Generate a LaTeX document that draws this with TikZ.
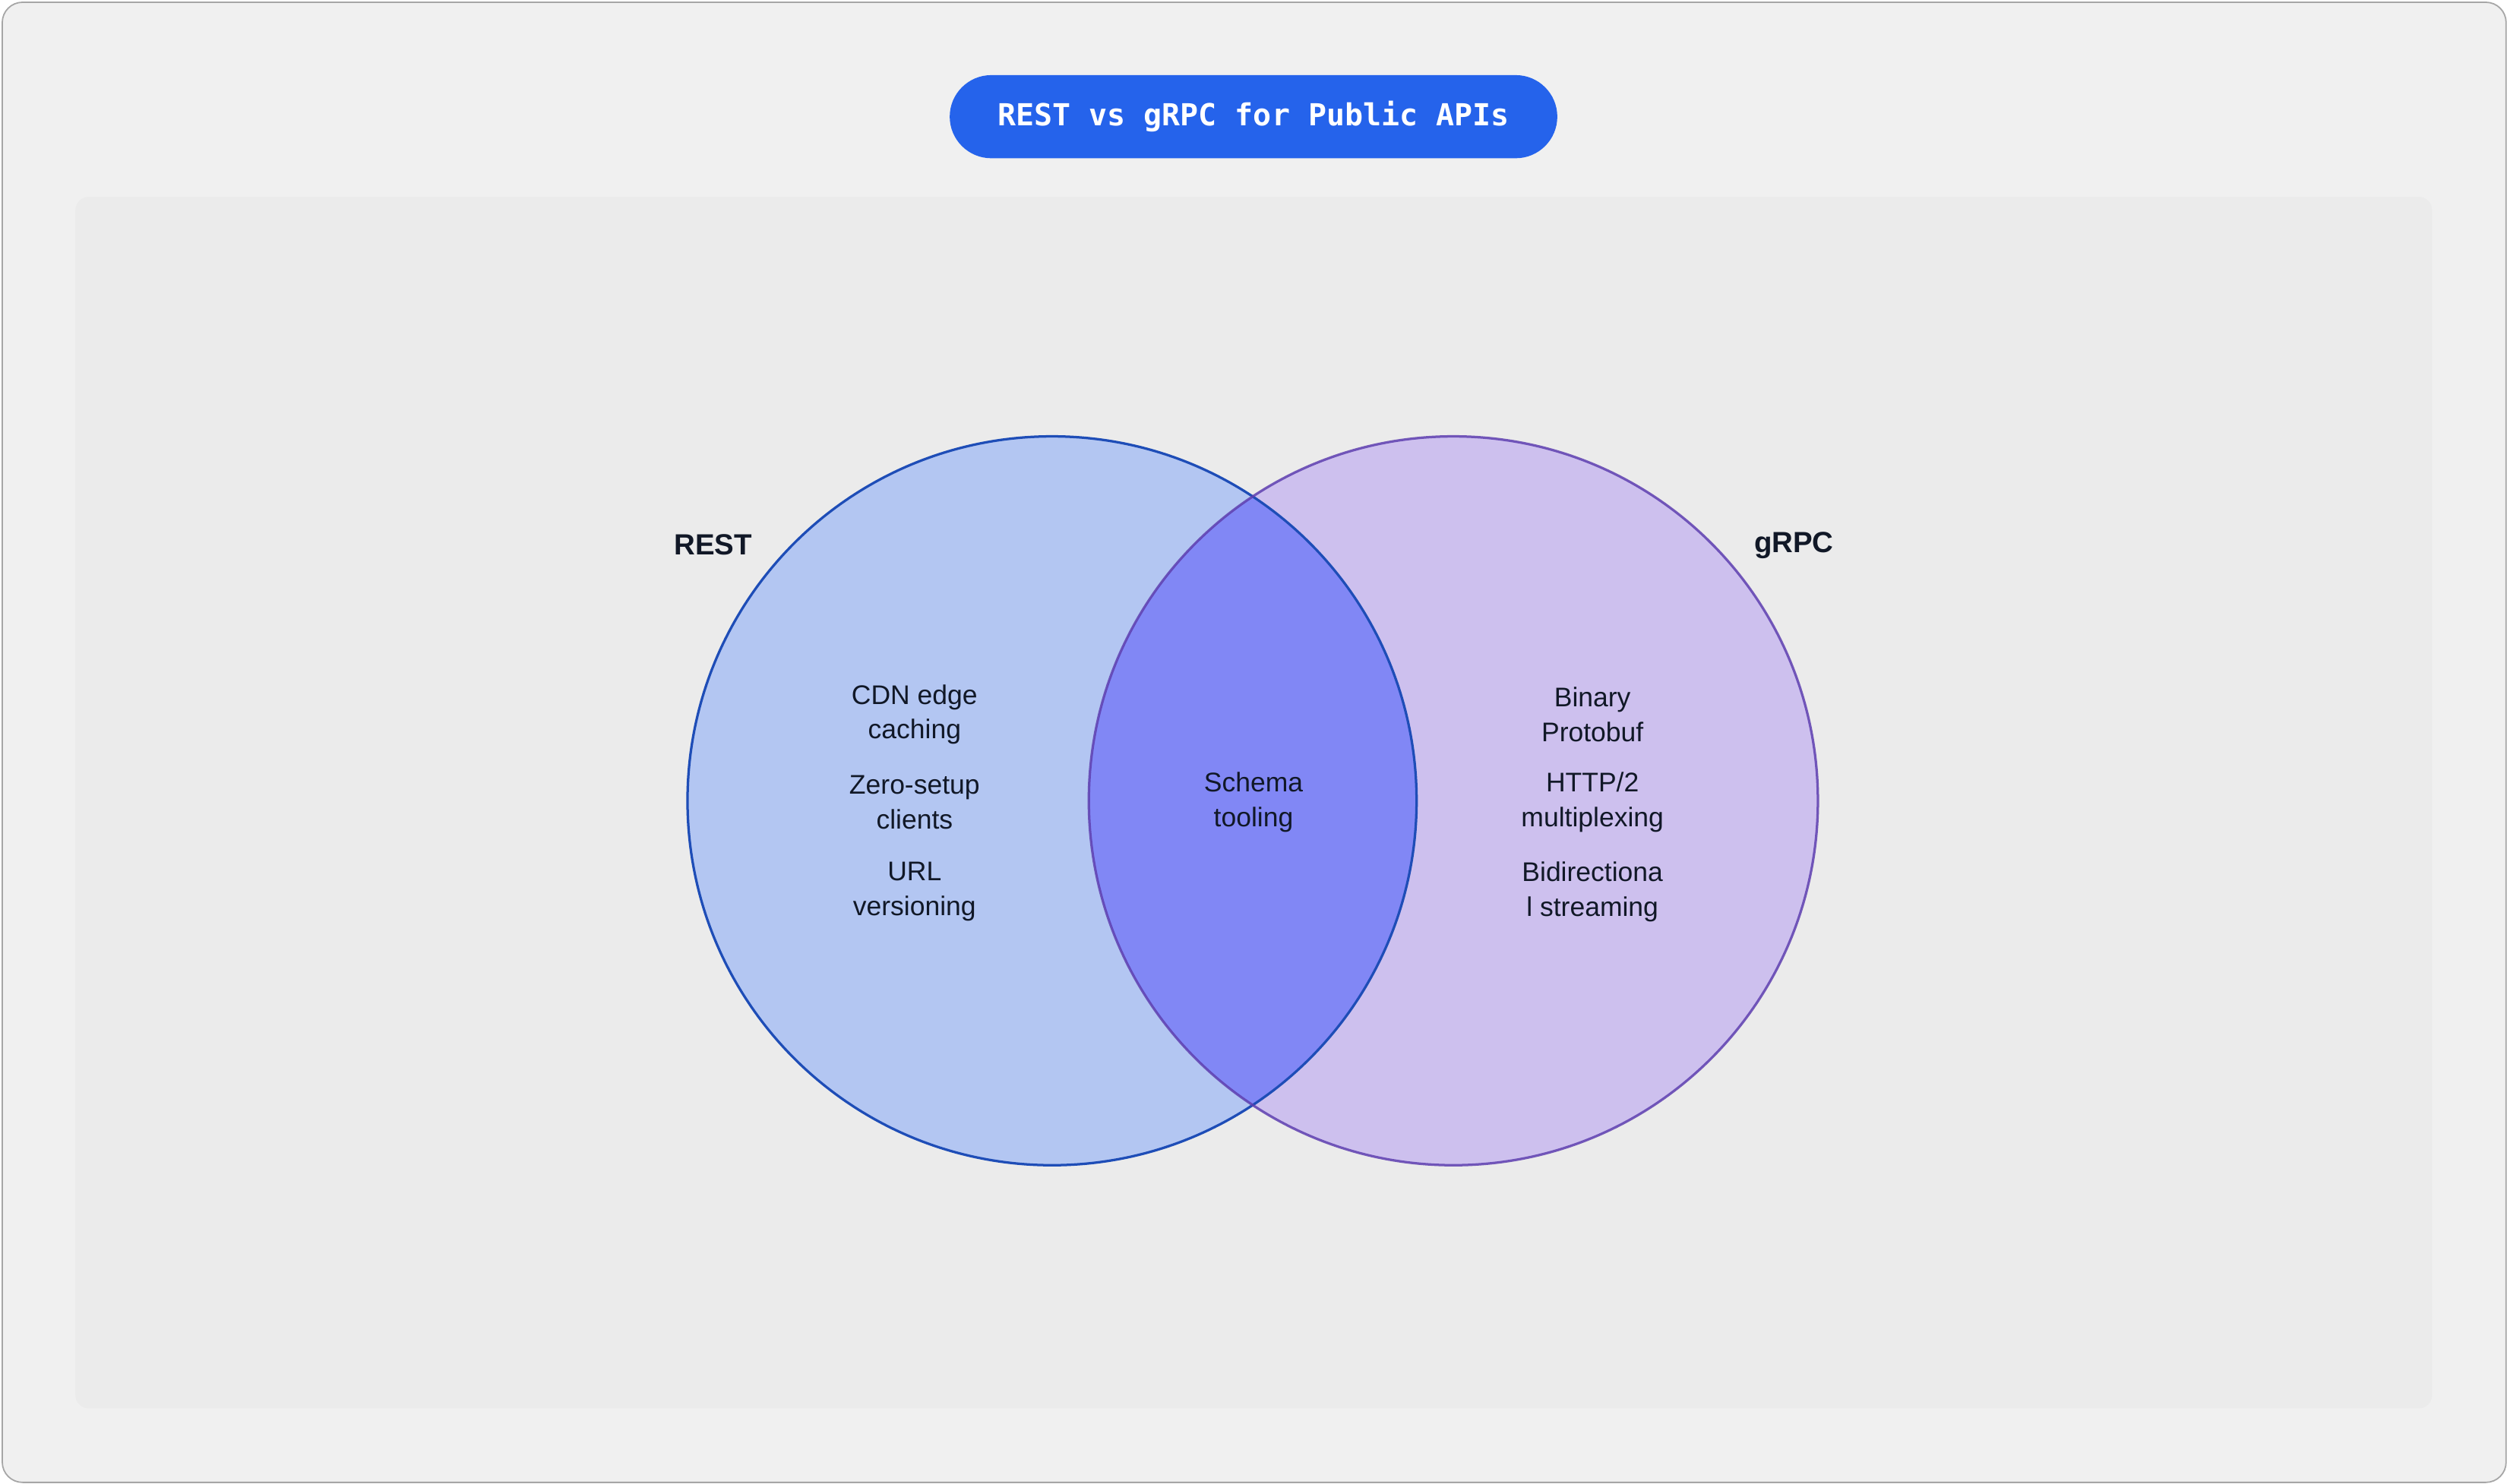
\documentclass[tikz,border=0pt]{standalone}
\usepackage{fontspec}
\setmainfont{Liberation Sans}
\newfontfamily\titlefont{DejaVu Sans Mono}
\begin{document}
\definecolor{bgc}{HTML}{F0F0F0}
\definecolor{panel}{HTML}{EBEBEB}
\definecolor{pill}{HTML}{2563EB}
\definecolor{lfill}{HTML}{B3C6F2}
\definecolor{lstroke}{HTML}{1E4DB7}
\definecolor{rfill}{HTML}{CDC0EE}
\definecolor{rstroke}{HTML}{5E3FB0}
\definecolor{mid}{HTML}{8187F5}
\definecolor{txt}{HTML}{111827}
\begin{tikzpicture}[x=0.5mm,y=-0.5mm,
  item/.style={align=center,font=\fontsize{24}{31}\selectfont,text=txt},
  setlabel/.style={font=\fontsize{26}{30}\selectfont\bfseries,text=txt}]
\useasboundingbox (0,0) rectangle (1568,928);
\node[draw=black!35,line width=1.2pt,fill=bgc,rounded corners=18pt,minimum width=1566*0.5mm,minimum height=926*0.5mm,anchor=north west] (frame) at (1,1) {};
\node[fill=panel,rounded corners=12pt,minimum width=1474*0.5mm,minimum height=758*0.5mm,anchor=north west,inner sep=0] (panelbox) at (47,123) {};
\node[fill=pill,rounded corners=26*0.5mm,minimum width=380*0.5mm,minimum height=52*0.5mm,text=white,font=\titlefont\bfseries\fontsize{27}{30}\selectfont] (title) at (784,73) {REST vs gRPC for Public APIs};
\coordinate (lc) at (658,501);
\coordinate (rc) at (909,501);
\fill[lfill] (lc) circle (228);
\fill[rfill] (rc) circle (228);
\begin{scope}
\clip (lc) circle (228);
\fill[mid] (rc) circle (228);
\end{scope}
\draw[lstroke,line width=2.2pt] (lc) circle (228);
\draw[rstroke,line width=2.2pt,opacity=0.85] (rc) circle (228);
\node[setlabel] (restl) at (446,341) {REST};
\node[setlabel] (grpcl) at (1122,341) {gRPC};
\node[item] (a1) at (572,447) {CDN edge\\caching};
\node[item] (a2) at (572,502) {Zero-setup\\clients};
\node[item] (a3) at (572,558) {URL\\versioning};
\node[item] (m1) at (784,502) {Schema\\tooling};
\node[item] (b1) at (996,447) {Binary\\Protobuf};
\node[item] (b2) at (996,502) {HTTP/2\\multiplexing};
\node[item] (b3) at (996,558) {Bidirectiona\\l streaming};
\end{tikzpicture}
\end{document}
